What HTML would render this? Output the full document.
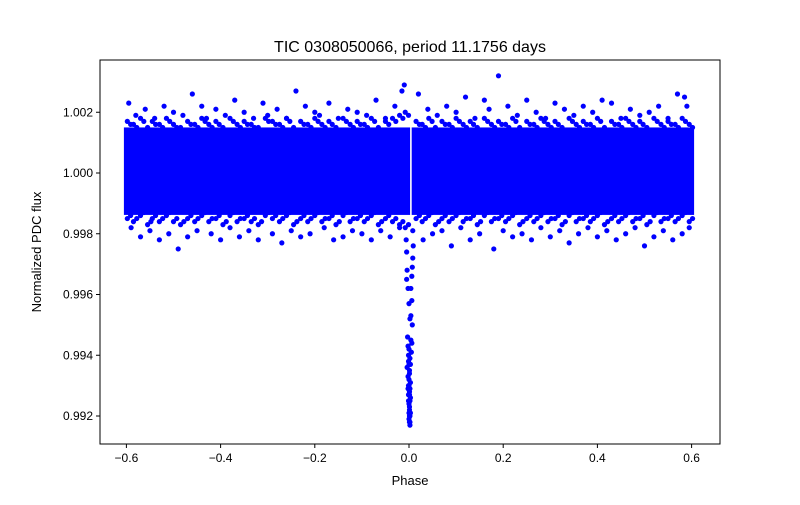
<!DOCTYPE html>
<html><head><meta charset="utf-8"><style>
body{margin:0;background:#fff;font-family:"Liberation Sans","DejaVu Sans",sans-serif}
</style></head><body>
<svg id="chart" width="800" height="500" xmlns="http://www.w3.org/2000/svg">
<rect width="800" height="500" fill="#fff"/>
<text x="410" y="52" text-anchor="middle" font-size="16">TIC 0308050066, period 11.1756 days</text>
<g id="marks"></g>
<rect x="100" y="60" width="620" height="384" fill="none" stroke="#000" stroke-width="1"/>
<g id="xt"></g>
<g id="yt"></g>
<text x="410" y="485" text-anchor="middle" font-size="13">Phase</text>
<text transform="translate(41,252) rotate(-90)" text-anchor="middle" font-size="13">Normalized PDC flux</text>
</svg>
<script>
const xTicks=[-0.6,-0.4,-0.2,0.0,0.2,0.4,0.6];
const xTickLabels=["−0.6","−0.4","−0.2","0.0","0.2","0.4","0.6"];
const yTicks=[0.992,0.994,0.996,0.998,1.000,1.002];
const yTickLabels=["0.992","0.994","0.996","0.998","1.000","1.002"];
// dense band envelope segments
const bandPhaseStart=[-0.6,0.011];
const bandPhaseEnd=[-0.003,0.6];
const bandLower=[0.99862,0.99862];
const bandUpper=[1.00150,1.00150];
// near-edge points (fuzzy band edges)
const edgePhase=[-0.598,-0.585,-0.57,-0.555,-0.545,-0.53,-0.515,-0.5,-0.485,-0.47,-0.455,-0.44,-0.425,-0.41,-0.395,-0.38,-0.365,-0.35,-0.335,-0.32,-0.305,-0.29,-0.275,-0.26,-0.245,-0.23,-0.215,-0.2,-0.185,-0.17,-0.155,-0.14,-0.125,-0.11,-0.095,-0.08,-0.065,-0.05,-0.035,-0.02,-0.008,0.015,0.028,0.042,0.056,0.07,0.085,0.1,0.115,0.13,0.145,0.16,0.175,0.19,0.205,0.22,0.235,0.25,0.265,0.28,0.295,0.31,0.325,0.34,0.355,0.37,0.385,0.4,0.415,0.43,0.445,0.46,0.475,0.49,0.505,0.52,0.535,0.55,0.565,0.58,0.595];
const edgeFluxTop=[1.0017,1.0016,1.0018,1.0015,1.0017,1.0016,1.0018,1.0016,1.0015,1.0017,1.0016,1.0018,1.0016,1.0017,1.0015,1.0018,1.0016,1.0017,1.0016,1.0015,1.0018,1.0017,1.0016,1.0018,1.0015,1.0017,1.0016,1.0018,1.0016,1.0017,1.0015,1.0018,1.0016,1.0017,1.0016,1.0018,1.0015,1.0017,1.0018,1.0019,1.0020,1.0017,1.0016,1.0018,1.0015,1.0017,1.0016,1.0018,1.0016,1.0017,1.0015,1.0018,1.0016,1.0017,1.0016,1.0018,1.0015,1.0017,1.0016,1.0018,1.0016,1.0017,1.0015,1.0018,1.0016,1.0017,1.0016,1.0018,1.0015,1.0017,1.0016,1.0018,1.0016,1.0017,1.0015,1.0018,1.0016,1.0017,1.0016,1.0018,1.0016];
const edgeFluxBot=[0.9985,0.9984,0.9986,0.9983,0.9985,0.9984,0.9986,0.9984,0.9983,0.9985,0.9984,0.9986,0.9984,0.9985,0.9983,0.9986,0.9984,0.9985,0.9984,0.9983,0.9986,0.9985,0.9984,0.9986,0.9983,0.9985,0.9984,0.9986,0.9984,0.9985,0.9983,0.9986,0.9984,0.9985,0.9984,0.9986,0.9983,0.9985,0.9984,0.9983,0.9982,0.9985,0.9984,0.9986,0.9983,0.9985,0.9984,0.9986,0.9984,0.9985,0.9983,0.9986,0.9984,0.9985,0.9984,0.9986,0.9983,0.9985,0.9984,0.9986,0.9984,0.9985,0.9983,0.9986,0.9984,0.9985,0.9984,0.9986,0.9983,0.9985,0.9984,0.9986,0.9984,0.9985,0.9983,0.9986,0.9984,0.9985,0.9984,0.9986,0.9984];
// outlier points around the band
const outPhase=[-0.595,-0.58,-0.56,-0.54,-0.52,-0.5,-0.48,-0.46,-0.44,-0.43,-0.41,-0.39,-0.37,-0.35,-0.33,-0.31,-0.3,-0.28,-0.26,-0.24,-0.22,-0.2,-0.19,-0.17,-0.15,-0.13,-0.11,-0.09,-0.07,-0.05,-0.03,-0.015,-0.01,0.02,0.04,0.06,0.08,0.1,0.12,0.14,0.16,0.17,0.19,0.21,0.23,0.25,0.27,0.29,0.31,0.33,0.35,0.37,0.39,0.41,0.43,0.45,0.47,0.49,0.51,0.53,0.55,0.57,0.585,0.59,
-0.59,-0.57,-0.55,-0.53,-0.51,-0.49,-0.47,-0.45,-0.42,-0.4,-0.38,-0.36,-0.34,-0.32,-0.29,-0.27,-0.25,-0.23,-0.21,-0.18,-0.16,-0.14,-0.12,-0.1,-0.08,-0.06,-0.04,-0.02,0.03,0.05,0.07,0.09,0.11,0.13,0.15,0.18,0.2,0.22,0.24,0.26,0.28,0.3,0.32,0.34,0.36,0.38,0.4,0.42,0.44,0.46,0.48,0.5,0.52,0.54,0.56,0.58,0.595];
const outFlux=[1.0023,1.0019,1.0021,1.0018,1.0022,1.0020,1.0019,1.0026,1.0022,1.0018,1.0021,1.0019,1.0024,1.0020,1.0018,1.0023,1.0019,1.0021,1.0018,1.0027,1.0022,1.0020,1.0019,1.0023,1.0018,1.0021,1.0020,1.0019,1.0024,1.0018,1.0022,1.0027,1.0029,1.0026,1.0021,1.0019,1.0022,1.0020,1.0025,1.0018,1.0024,1.0021,1.0032,1.0022,1.0019,1.0024,1.0020,1.0018,1.0023,1.0021,1.0019,1.0022,1.0020,1.0024,1.0023,1.0018,1.0021,1.0019,1.0020,1.0022,1.0018,1.0026,1.0025,1.0022,
0.9982,0.9979,0.9981,0.9978,0.9980,0.9975,0.9979,0.9981,0.9980,0.9978,0.9982,0.9979,0.9981,0.9978,0.9980,0.9977,0.9981,0.9979,0.9980,0.9982,0.9978,0.9979,0.9981,0.9980,0.9978,0.9981,0.9979,0.9982,0.9978,0.9980,0.9981,0.9976,0.9982,0.9978,0.9980,0.9975,0.9981,0.9979,0.9980,0.9978,0.9982,0.9979,0.9981,0.9977,0.9980,0.9982,0.9979,0.9981,0.9978,0.9980,0.9982,0.9976,0.9979,0.9981,0.9978,0.9980,0.9982];
// transit points
const trPhase=[-0.006,-0.005,-0.004,-0.002,0.0,0.002,0.004,0.006,0.008,0.009,-0.003,-0.001,0.001,0.003,0.005,0.007,0.006,-0.004,0.0,0.002,-0.002,0.004,0.001,-0.001,0.003,0.0,0.001,0.002,-0.001,0.003,0.001,0.0,0.002,0.001,-0.002,0.004,0.006,0.008,-0.005,0.007,-0.001,0.0,0.001,0.002,-0.001,0.0,0.001,0.002,0.0,0.001,-0.002,0.003,0.0,0.002];
const trFlux=[0.9978,0.9974,0.9968,0.9962,0.9957,0.9952,0.9962,0.9958,0.9972,0.9976,0.9946,0.9938,0.9935,0.9931,0.9941,0.9950,0.9944,0.9936,0.9942,0.9939,0.9933,0.9945,0.9928,0.9930,0.9926,0.9924,0.9922,0.9920,0.9925,0.9921,0.9918,0.9919,0.9917,0.9923,0.9929,0.9953,0.9966,0.9981,0.9965,0.9969,0.9940,0.9937,0.9934,0.9929,0.9927,0.9932,0.9927,0.9925,0.9921,0.9920,0.9943,0.9937,0.9930,0.9918];

const X0=100,X1=720,Y0=60,Y1=444;
const xs=p=>409+(p/0.2)*94.2;
const ys=f=>173-(f-1.0)/0.002*60.75;
const NS="http://www.w3.org/2000/svg";
const marks=document.getElementById('marks');
function mk(t,a){const e=document.createElementNS(NS,t);for(const k in a)e.setAttribute(k,a[k]);return e;}
for(let i=0;i<bandPhaseStart.length;i++){
  const x=xs(bandPhaseStart[i])-2.5,w=xs(bandPhaseEnd[i])-xs(bandPhaseStart[i])+5;
  const y=ys(bandUpper[i]),h=ys(bandLower[i])-y;
  const r=mk('rect',{x:x,y:y,width:w,height:h,fill:'#0000ff'});
  
  
  marks.appendChild(r);
}
function pts(P,F,name){for(let i=0;i<P.length;i++){
  const c=mk('circle',{cx:xs(P[i]),cy:ys(F[i]),r:2.6,fill:'#0000ff'});
  
  
  marks.appendChild(c);}}
pts(edgePhase,edgeFluxTop,'band-edge-point');
pts(edgePhase,edgeFluxBot,'band-edge-point');
pts(edgePhase.map(p=>p+0.007),edgeFluxTop.map(f=>f-0.0001),'band-edge-point');
pts(edgePhase.map(p=>p+0.007),edgeFluxBot.map(f=>f+0.0001),'band-edge-point');
pts(outPhase,outFlux,'outlier-point');
pts(trPhase,trFlux,'transit-point');
const xt=document.getElementById('xt');
xTicks.forEach((v,i)=>{const x=xs(v);
  const l=mk('line',{x1:x,x2:x,y1:Y1,y2:Y1+4,stroke:'#000'});
  
  
  xt.appendChild(l);
  const t=mk('text',{x:x,y:Y1+18,'text-anchor':'middle','font-size':12});t.textContent=xTickLabels[i];
  
  
  xt.appendChild(t);});
const yt=document.getElementById('yt');
yTicks.forEach((v,i)=>{const y=ys(v);
  const l=mk('line',{x1:X0-4,x2:X0,y1:y,y2:y,stroke:'#000'});
  
  
  yt.appendChild(l);
  const t=mk('text',{x:X0-7,y:y+4,'text-anchor':'end','font-size':12});t.textContent=yTickLabels[i];
  
  
  yt.appendChild(t);});
</script>
</body></html>
